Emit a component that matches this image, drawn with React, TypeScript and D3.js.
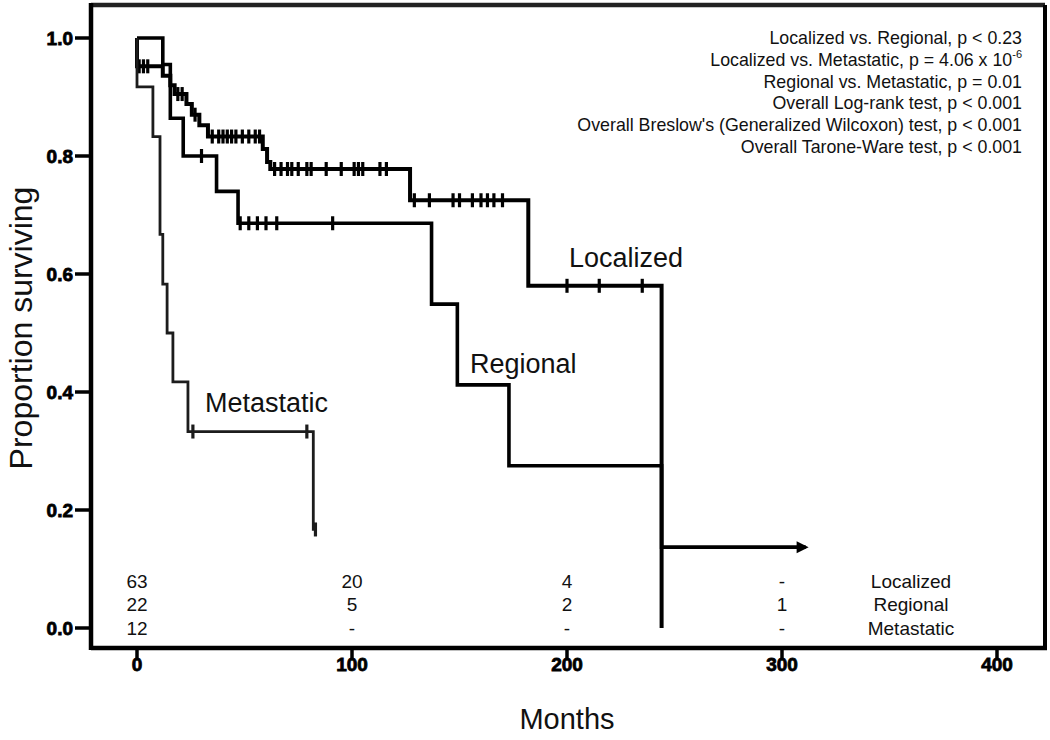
import React from "react";
import * as d3 from "d3";

// ---------- data ----------
const xTicks = [0, 100, 200, 300, 400];
const yTicks = [0, 0.2, 0.4, 0.6, 0.8, 1.0];

const localizedTimes = [0, 0, 12, 15.5, 17.5, 23, 25.5, 29, 33, 58.5, 60.5, 62, 127, 182, 244];
const localizedSurv = [1.0, 0.952, 0.936, 0.92, 0.905, 0.888, 0.87, 0.852, 0.833, 0.812, 0.79, 0.778, 0.725, 0.58, 0];
const localizedCensored = [1, 3, 5, 19, 21, 27, 35, 38, 40, 42, 44, 46, 49, 52, 55, 57, 64, 67, 70, 72, 75, 79, 81, 88, 95, 101, 103, 105, 113, 116, 129, 136, 147, 150, 156, 160, 163, 166, 170, 200, 215, 235];

const regionalTimes = [0, 12, 15.5, 21.5, 37, 47, 137, 149, 173, 244, 311];
const regionalSurv = [1.0, 0.955, 0.864, 0.8, 0.74, 0.686, 0.549, 0.412, 0.275, 0.137, 0.137];
const regionalCensored = [30, 48, 52, 56, 60, 65, 91];
const regionalEnd = 311;

const metastaticTimes = [0, 0, 7.4, 10.7, 12, 14, 16.7, 23.7, 82, 83];
const metastaticSurv = [1.0, 0.917, 0.833, 0.667, 0.583, 0.5, 0.417, 0.333, 0.167, 0.167];
const metastaticCensored = [26, 79, 83];

const annotations = [
  "Localized vs. Regional, p < 0.23",
  "Localized vs. Metastatic, p = 4.06 x 10",
  "Regional vs. Metastatic, p = 0.01",
  "Overall Log-rank test, p < 0.001",
  "Overall Breslow's (Generalized Wilcoxon) test, p < 0.001",
  "Overall Tarone-Ware test, p < 0.001",
];
const annotationSup = ["", "-6", "", "", "", ""];

const riskTimes = [0, 100, 200, 300];
const riskGroups = ["Localized", "Regional", "Metastatic"];
const riskLocalized = ["63", "20", "4", "-"];
const riskRegional = ["22", "5", "2", "1"];
const riskMetastatic = ["12", "-", "-", "-"];

const curveLabels = ["Localized", "Regional", "Metastatic"];

// ---------- chart ----------
const SANS = "'Liberation Sans', Arial, Helvetica, sans-serif";
const NARROW = "'Liberation Sans Narrow', 'Arial Narrow', 'Liberation Sans', sans-serif";

function survAt(times: number[], surv: number[], t: number) {
  let s = surv[0];
  for (let i = 0; i < times.length; i++) if (times[i] <= t) s = surv[i];
  return s;
}

export default function App() {
  const W = 1050, H = 740;
  const box = { left: 91, right: 1045, top: 5, bottom: 648 };
  const x = d3.scaleLinear().domain([0, 400]).range([137, 997]);
  const y = d3.scaleLinear().domain([0, 1]).range([628, 38]);
  const line = d3
    .line<[number, number]>()
    .x((d) => x(d[0]))
    .y((d) => y(d[1]))
    .curve(d3.curveStepAfter);

  const series = [
    { name: "Localized", times: localizedTimes, surv: localizedSurv, cens: localizedCensored, w: 4, color: "#000" },
    { name: "Regional", times: regionalTimes, surv: regionalSurv, cens: regionalCensored, w: 3.6, color: "#000" },
    { name: "Metastatic", times: metastaticTimes, surv: metastaticSurv, cens: metastaticCensored, w: 2.8, color: "#1c1c1c" },
  ];

  const labelPos: Record<string, [number, number]> = {
    Localized: [569, 267],
    Regional: [470, 373],
    Metastatic: [205, 412],
  };

  const riskRows = [riskLocalized, riskRegional, riskMetastatic];
  const riskY = [588, 611, 635];

  const endY = y(survAt(regionalTimes, regionalSurv, regionalEnd));

  return (
    <svg width={W} height={H} style={{ position: "absolute", left: 0, top: 0, background: "#fff" }}>
      <rect x={0} y={0} width={W} height={H} fill="#fff" />
      {/* frame */}
      <line x1={box.left} x2={box.right} y1={box.top} y2={box.top} stroke="#222" strokeWidth={4.5} />
      <line x1={box.right} x2={box.right} y1={box.top} y2={box.bottom} stroke="#000" strokeWidth={4} />
      <line x1={box.left} x2={box.left} y1={box.top - 2} y2={box.bottom + 2} stroke="#000" strokeWidth={4.5} />
      <line x1={box.left} x2={box.right + 2} y1={box.bottom} y2={box.bottom} stroke="#000" strokeWidth={4.5} />

      {/* y axis ticks */}
      {yTicks.map((t) => (
        <g key={"y" + t}>
          <line x1={75} x2={box.left} y1={y(t)} y2={y(t)} stroke="#000" strokeWidth={3.5} />
          <text x={73} y={y(t) + 7} textAnchor="end" fontFamily={SANS} fontWeight="bold" fontSize={19} stroke="#000" strokeWidth={0.8}>
            {d3.format(".1f")(t)}
          </text>
        </g>
      ))}
      {/* x axis ticks */}
      {xTicks.map((t) => (
        <g key={"x" + t}>
          <line x1={x(t)} x2={x(t)} y1={box.bottom} y2={box.bottom + 12} stroke="#000" strokeWidth={3.5} />
          <text x={x(t)} y={box.bottom + 23} textAnchor="middle" fontFamily={SANS} fontWeight="bold" fontSize={19} stroke="#000" strokeWidth={0.8}>
            {t}
          </text>
        </g>
      ))}

      {/* axis titles */}
      <text x={567} y={729} textAnchor="middle" fontFamily={SANS} fontSize={29} fill="#111">
        Months
      </text>
      <text transform="translate(32,328) rotate(-90)" textAnchor="middle" fontFamily={SANS} fontSize={32} fill="#111">
        Proportion surviving
      </text>

      {/* curves */}
      {series.map((s) => {
        const pts: [number, number][] = s.times.map((t, i) => [t, s.surv[i]]);
        return (
          <g key={s.name}>
            <path d={line(pts) || ""} fill="none" stroke={s.color} strokeWidth={s.w} strokeLinejoin="miter" />
            {s.cens.map((c, i) => {
              const cy = y(survAt(s.times, s.surv, c));
              return <line key={i} x1={x(c)} x2={x(c)} y1={cy - 7} y2={cy + 7} stroke={s.color} strokeWidth={3.2} />;
            })}
          </g>
        );
      })}
      {/* regional end marker */}
      <path
        d={`M${x(regionalEnd) + 3},${endY} L${x(regionalEnd) - 9},${endY - 6} L${x(regionalEnd) - 9},${endY + 6} Z`}
        fill="#000"
      />

      {/* curve labels */}
      {curveLabels.map((l) => (
        <text key={l} x={labelPos[l][0]} y={labelPos[l][1]} fontFamily={SANS} fontSize={27} fill="#111">
          {l}
        </text>
      ))}

      {/* annotations */}
      {annotations.map((a, i) => (
        <text key={i} x={1022} y={44 + i * 21.8} textAnchor="end" fontFamily={SANS} fontSize={17.8} fill="#111">
          {a}
          {annotationSup[i] ? (
            <tspan fontSize={11} dy={-8}>
              {annotationSup[i]}
            </tspan>
          ) : null}
        </text>
      ))}

      {/* number at risk table */}
      {riskRows.map((row, r) => (
        <g key={"r" + r}>
          {row.map((v, c) => (
            <text key={c} x={x(riskTimes[c])} y={riskY[r]} textAnchor="middle" fontFamily={NARROW} fontSize={19} fill="#111">
              {v}
            </text>
          ))}
          <text x={911} y={riskY[r]} textAnchor="middle" fontFamily={NARROW} fontSize={19} fill="#111">
            {riskGroups[r]}
          </text>
        </g>
      ))}
    </svg>
  );
}
